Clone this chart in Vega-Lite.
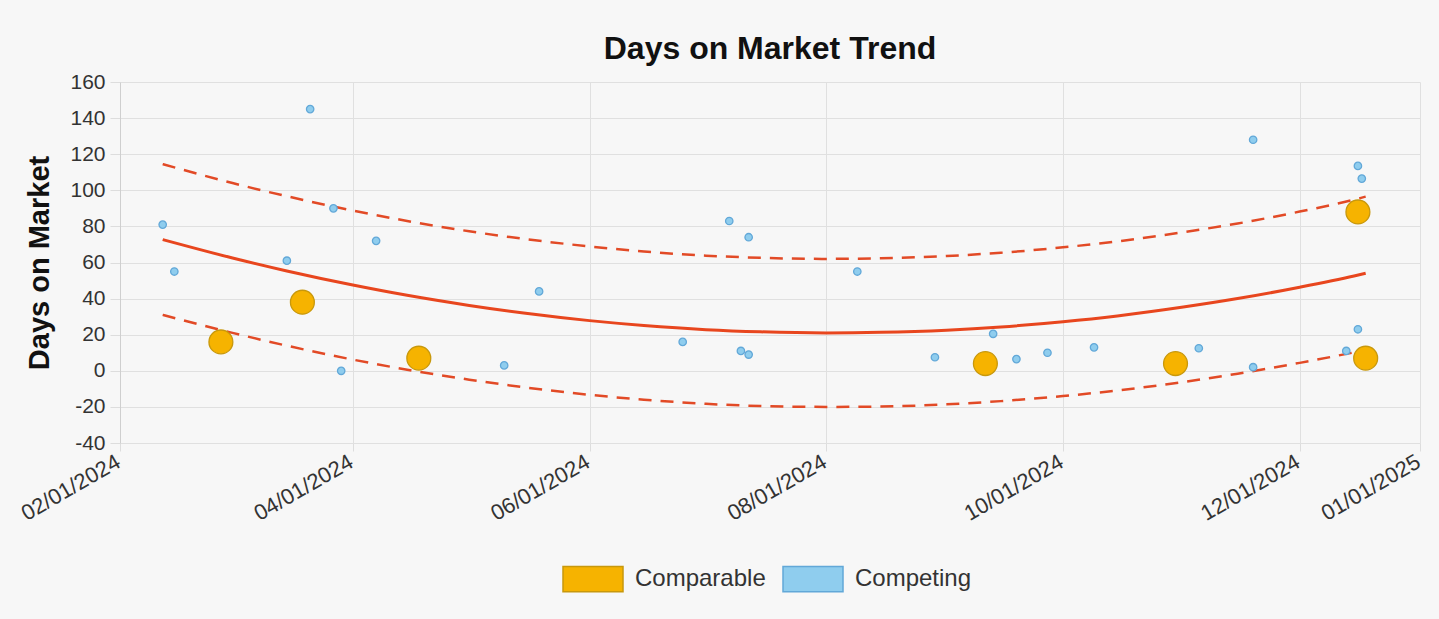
{
  "$schema": "https://vega.github.io/schema/vega-lite/v6.json",
  "width": 1300,
  "height": 361,
  "autosize": {"type": "none"},
  "padding": {"left": 120, "top": 82, "right": 19, "bottom": 176},
  "background": "#f7f7f7",
  "title": {
    "text": "Days on Market Trend",
    "fontSize": 32,
    "fontWeight": "bold",
    "color": "#111111",
    "anchor": "middle",
    "frame": "group",
    "offset": -20,
    "baseline": "alphabetic"
  },
  "datasets": {
    "points": [
      {"date": "2024-02-12T00:00:00", "value": 81, "type": "Competing"},
      {"date": "2024-02-15T00:00:00", "value": 55, "type": "Competing"},
      {"date": "2024-03-15T00:00:00", "value": 61, "type": "Competing"},
      {"date": "2024-03-21T00:00:00", "value": 145, "type": "Competing"},
      {"date": "2024-03-27T00:00:00", "value": 90, "type": "Competing"},
      {"date": "2024-03-29T00:00:00", "value": 0, "type": "Competing"},
      {"date": "2024-04-07T00:00:00", "value": 72, "type": "Competing"},
      {"date": "2024-05-10T00:00:00", "value": 3, "type": "Competing"},
      {"date": "2024-05-19T00:00:00", "value": 44, "type": "Competing"},
      {"date": "2024-06-25T00:00:00", "value": 16, "type": "Competing"},
      {"date": "2024-07-07T00:00:00", "value": 83, "type": "Competing"},
      {"date": "2024-07-12T00:00:00", "value": 74, "type": "Competing"},
      {"date": "2024-07-10T00:00:00", "value": 11, "type": "Competing"},
      {"date": "2024-07-12T00:00:00", "value": 9, "type": "Competing"},
      {"date": "2024-08-09T00:00:00", "value": 55, "type": "Competing"},
      {"date": "2024-08-29T00:00:00", "value": 7.5, "type": "Competing"},
      {"date": "2024-09-13T00:00:00", "value": 20.5, "type": "Competing"},
      {"date": "2024-09-19T00:00:00", "value": 6.5, "type": "Competing"},
      {"date": "2024-09-27T00:00:00", "value": 10, "type": "Competing"},
      {"date": "2024-10-09T00:00:00", "value": 13, "type": "Competing"},
      {"date": "2024-11-05T00:00:00", "value": 12.5, "type": "Competing"},
      {"date": "2024-11-19T00:00:00", "value": 2, "type": "Competing"},
      {"date": "2024-11-19T00:00:00", "value": 128, "type": "Competing"},
      {"date": "2024-12-13T00:00:00", "value": 11, "type": "Competing"},
      {"date": "2024-12-16T00:00:00", "value": 23, "type": "Competing"},
      {"date": "2024-12-16T00:00:00", "value": 113.5, "type": "Competing"},
      {"date": "2024-12-17T00:00:00", "value": 106.5, "type": "Competing"},
      {"date": "2024-02-27T00:00:00", "value": 16, "type": "Comparable"},
      {"date": "2024-03-19T00:00:00", "value": 38, "type": "Comparable"},
      {"date": "2024-04-18T00:00:00", "value": 7, "type": "Comparable"},
      {"date": "2024-09-11T00:00:00", "value": 4, "type": "Comparable"},
      {"date": "2024-10-30T00:00:00", "value": 4, "type": "Comparable"},
      {"date": "2024-12-16T00:00:00", "value": 88, "type": "Comparable"},
      {"date": "2024-12-18T00:00:00", "value": 7, "type": "Comparable"}
    ],
    "trend": [
      {"date": "2024-02-12T00:00:00", "series": "Trend", "value": 72.7},
      {"date": "2024-03-01T00:00:00", "series": "Trend", "value": 62.5},
      {"date": "2024-03-15T00:00:00", "series": "Trend", "value": 55.3},
      {"date": "2024-04-01T00:00:00", "series": "Trend", "value": 47.5},
      {"date": "2024-04-15T00:00:00", "series": "Trend", "value": 41.8},
      {"date": "2024-05-01T00:00:00", "series": "Trend", "value": 36.2},
      {"date": "2024-05-15T00:00:00", "series": "Trend", "value": 32.0},
      {"date": "2024-06-01T00:00:00", "series": "Trend", "value": 27.8},
      {"date": "2024-06-15T00:00:00", "series": "Trend", "value": 25.1},
      {"date": "2024-07-01T00:00:00", "series": "Trend", "value": 22.8},
      {"date": "2024-07-15T00:00:00", "series": "Trend", "value": 21.6},
      {"date": "2024-08-01T00:00:00", "series": "Trend", "value": 21.0},
      {"date": "2024-08-15T00:00:00", "series": "Trend", "value": 21.3},
      {"date": "2024-09-01T00:00:00", "series": "Trend", "value": 22.5},
      {"date": "2024-09-15T00:00:00", "series": "Trend", "value": 24.3},
      {"date": "2024-10-01T00:00:00", "series": "Trend", "value": 27.2},
      {"date": "2024-10-15T00:00:00", "series": "Trend", "value": 30.4},
      {"date": "2024-11-01T00:00:00", "series": "Trend", "value": 35.3},
      {"date": "2024-11-15T00:00:00", "series": "Trend", "value": 40.0},
      {"date": "2024-12-01T00:00:00", "series": "Trend", "value": 46.3},
      {"date": "2024-12-15T00:00:00", "series": "Trend", "value": 52.5},
      {"date": "2024-12-18T00:00:00", "series": "Trend", "value": 54.0},
      {"date": "2024-02-12T00:00:00", "series": "Upper", "value": 114.5},
      {"date": "2024-03-01T00:00:00", "series": "Upper", "value": 104.0},
      {"date": "2024-03-15T00:00:00", "series": "Upper", "value": 96.7},
      {"date": "2024-04-01T00:00:00", "series": "Upper", "value": 88.8},
      {"date": "2024-04-15T00:00:00", "series": "Upper", "value": 83.0},
      {"date": "2024-05-01T00:00:00", "series": "Upper", "value": 77.3},
      {"date": "2024-05-15T00:00:00", "series": "Upper", "value": 73.1},
      {"date": "2024-06-01T00:00:00", "series": "Upper", "value": 68.9},
      {"date": "2024-06-15T00:00:00", "series": "Upper", "value": 66.1},
      {"date": "2024-07-01T00:00:00", "series": "Upper", "value": 63.8},
      {"date": "2024-07-15T00:00:00", "series": "Upper", "value": 62.6},
      {"date": "2024-08-01T00:00:00", "series": "Upper", "value": 62.0},
      {"date": "2024-08-15T00:00:00", "series": "Upper", "value": 62.3},
      {"date": "2024-09-01T00:00:00", "series": "Upper", "value": 63.6},
      {"date": "2024-09-15T00:00:00", "series": "Upper", "value": 65.4},
      {"date": "2024-10-01T00:00:00", "series": "Upper", "value": 68.4},
      {"date": "2024-10-15T00:00:00", "series": "Upper", "value": 71.7},
      {"date": "2024-11-01T00:00:00", "series": "Upper", "value": 76.8},
      {"date": "2024-11-15T00:00:00", "series": "Upper", "value": 81.6},
      {"date": "2024-12-01T00:00:00", "series": "Upper", "value": 88.2},
      {"date": "2024-12-15T00:00:00", "series": "Upper", "value": 94.8},
      {"date": "2024-12-18T00:00:00", "series": "Upper", "value": 96.5},
      {"date": "2024-02-12T00:00:00", "series": "Lower", "value": 31.0},
      {"date": "2024-03-01T00:00:00", "series": "Lower", "value": 21.0},
      {"date": "2024-03-15T00:00:00", "series": "Lower", "value": 13.9},
      {"date": "2024-04-01T00:00:00", "series": "Lower", "value": 6.2},
      {"date": "2024-04-15T00:00:00", "series": "Lower", "value": 0.6},
      {"date": "2024-05-01T00:00:00", "series": "Lower", "value": -4.9},
      {"date": "2024-05-15T00:00:00", "series": "Lower", "value": -9.1},
      {"date": "2024-06-01T00:00:00", "series": "Lower", "value": -13.3},
      {"date": "2024-06-15T00:00:00", "series": "Lower", "value": -16.0},
      {"date": "2024-07-01T00:00:00", "series": "Lower", "value": -18.3},
      {"date": "2024-07-15T00:00:00", "series": "Lower", "value": -19.5},
      {"date": "2024-08-01T00:00:00", "series": "Lower", "value": -20.0},
      {"date": "2024-08-15T00:00:00", "series": "Lower", "value": -19.8},
      {"date": "2024-09-01T00:00:00", "series": "Lower", "value": -18.6},
      {"date": "2024-09-15T00:00:00", "series": "Lower", "value": -16.8},
      {"date": "2024-10-01T00:00:00", "series": "Lower", "value": -14.0},
      {"date": "2024-10-15T00:00:00", "series": "Lower", "value": -10.9},
      {"date": "2024-11-01T00:00:00", "series": "Lower", "value": -6.2},
      {"date": "2024-11-15T00:00:00", "series": "Lower", "value": -1.6},
      {"date": "2024-12-01T00:00:00", "series": "Lower", "value": 4.4},
      {"date": "2024-12-15T00:00:00", "series": "Lower", "value": 10.2},
      {"date": "2024-12-18T00:00:00", "series": "Lower", "value": 11.5}
    ]
  },
  "encoding": {
    "x": {
      "field": "date",
      "type": "temporal",
      "scale": {"domain": [{"year": 2024, "month": 2, "date": 1}, {"year": 2025, "month": 1, "date": 1}]},
      "axis": {
        "title": null,
        "values": [
          {"year": 2024, "month": 2, "date": 1},
          {"year": 2024, "month": 4, "date": 1},
          {"year": 2024, "month": 6, "date": 1},
          {"year": 2024, "month": 8, "date": 1},
          {"year": 2024, "month": 10, "date": 1},
          {"year": 2024, "month": 12, "date": 1},
          {"year": 2025, "month": 1, "date": 1}
        ],
        "format": "%m/%d/%Y",
        "labelAngle": -30,
        "labelAlign": "right",
        "labelBaseline": "top",
        "labelFontSize": 22,
        "labelPadding": 0,
        "labelOffset": -7,
        "tickSize": 8,
        "labelOverlap": false,
        "labelFlush": false,
        "labelBound": false
      }
    },
    "y": {
      "field": "value",
      "type": "quantitative",
      "scale": {"domain": [-40, 160], "nice": false, "zero": false},
      "axis": {
        "title": "Days on Market",
        "values": [-40, -20, 0, 20, 40, 60, 80, 100, 120, 140, 160],
        "labelExpr": "'' + datum.value",
        "labelOverlap": false,
        "labelFlush": false,
        "labelBound": false,
        "titleFontSize": 29,
        "titleFontWeight": "bold",
        "titleColor": "#111111",
        "titleX": -72,
        "titleY": 180.5,
        "titleAngle": -90,
        "titleAlign": "center",
        "titleBaseline": "alphabetic",
        "tickSize": 10,
        "labelPadding": 5,
        "domain": true,
        "domainColor": "#cfcfcf"
      }
    }
  },
  "layer": [
    {
      "data": {"name": "trend"},
      "transform": [{"filter": "datum.series === 'Trend'"}],
      "mark": {"type": "line", "color": "#e8461e", "strokeWidth": 3, "interpolate": "monotone"}
    },
    {
      "data": {"name": "trend"},
      "transform": [{"filter": "datum.series !== 'Trend'"}],
      "mark": {"type": "line", "color": "#e24a26", "strokeWidth": 2.5, "strokeDash": [13, 9], "interpolate": "monotone"},
      "encoding": {"detail": {"field": "series", "type": "nominal"}}
    },
    {
      "data": {"name": "points"},
      "mark": {"type": "point", "filled": true, "shape": "circle", "opacity": 1, "strokeWidth": 1.3, "strokeOpacity": 1},
      "encoding": {
        "color": {
          "field": "type",
          "type": "nominal",
          "scale": {"domain": ["Comparable", "Competing"], "range": ["#f6b300", "#8fcdee"]},
          "legend": {"orient": "none", "legendX": 442, "legendY": 466, "direction": "horizontal", "title": null}
        },
        "stroke": {
          "field": "type",
          "type": "nominal",
          "scale": {"domain": ["Comparable", "Competing"], "range": ["#c8980c", "#62a8d8"]},
          "legend": {"orient": "none", "legendX": 442, "legendY": 466, "direction": "horizontal", "title": null}
        },
        "size": {
          "condition": {"test": "datum.type === 'Comparable'", "value": 570},
          "value": 55
        }
      }
    }
  ],
  "config": {
    "font": "Liberation Sans",
    "view": {"stroke": null},
    "axis": {
      "labelFont": "Liberation Sans",
      "labelFontSize": 21,
      "labelColor": "#333333",
      "gridColor": "#e0e0e0",
      "gridWidth": 1,
      "tickColor": "#dddddd",
      "domainColor": "#e0e0e0"
    },
    "legend": {
      "symbolType": "M-1,-0.42H1V0.42H-1Z",
      "symbolSize": 3600,
      "symbolStrokeWidth": 1.5,
      "symbolOpacity": 1,
      "labelFontSize": 24,
      "labelColor": "#333333",
      "labelOffset": 11,
      "columnPadding": 14,
      "padding": 0
    }
  }
}
